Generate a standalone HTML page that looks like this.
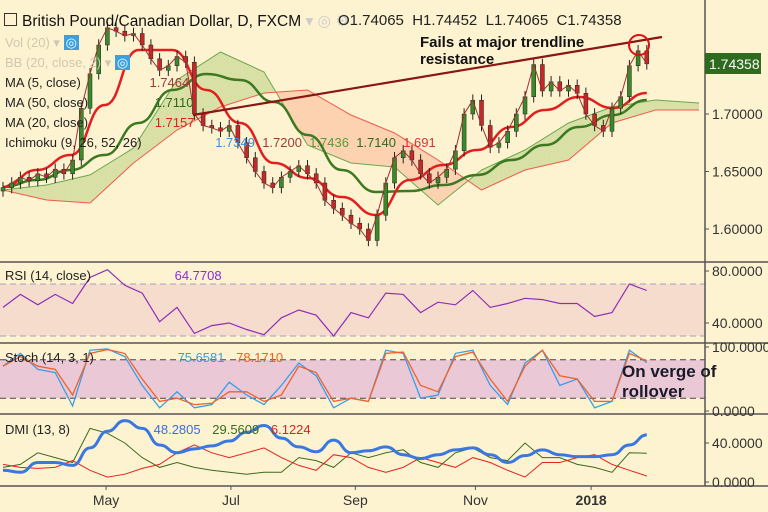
<!DOCTYPE html>
<html><head><meta charset="utf-8"><style>
body{margin:0;background:#fff;}
#wrap{position:relative;width:768px;height:512px;background:#fef3d0;overflow:hidden;font-family:"Liberation Sans",sans-serif;}
svg{position:absolute;left:0;top:0}
.t{position:absolute;white-space:nowrap;font-size:13px;}
</style></head><body>
<div id="wrap">
<svg id="s" width="768" height="512"></svg>
<div class="t" style="left:4px;top:12px;font-size:15.5px;color:#111"><span style="display:inline-block;width:11px;height:11px;border:1px solid #333;margin-right:5px;vertical-align:0"></span>British Pound/Canadian Dollar, D, FXCM <span style="color:#ccc">▾ ◎ ⚙</span></div>
<div class="t" style="left:338px;top:12px;font-size:15px;color:#222">O1.74065 &nbsp;H1.74452 &nbsp;L1.74065 &nbsp;C1.74358</div>
<div class="t" style="left:5px;top:35px;color:#cfc8b0">Vol (20) ▾ <span style="background:#3aa0e0;color:#fff;padding:0 2px">◎</span></div>
<div class="t" style="left:5px;top:55px;color:#cfc8b0">BB (20, close, 2) ▾ <span style="background:#3aa0e0;color:#fff;padding:0 2px">◎</span></div>
<div class="t" style="left:5px;top:75px;color:#222">MA (5, close) <span style="color:#9b3b3b;margin-left:65px">1.7464</span></div>
<div class="t" style="left:5px;top:95px;color:#222">MA (50, close) <span style="color:#2d6a1f;margin-left:63px">1.7110</span></div>
<div class="t" style="left:5px;top:115px;color:#222">MA (20, close) <span style="color:#e02020;margin-left:63px">1.7157</span></div>
<div class="t" style="left:5px;top:135px;color:#222">Ichimoku (9, 26, 52, 26) <span style="color:#3a8ee0;margin-left:70px">1.7349</span> <span style="color:#9b3b3b">&nbsp;1.7200</span> <span style="color:#5a9a3a">&nbsp;1.7436</span> <span style="color:#2d6a1f">&nbsp;1.7140</span> <span style="color:#e03030">&nbsp;1.691</span></div>
<div class="t" style="left:420px;top:34px;font-size:15px;font-weight:bold;color:#111;line-height:17px">Fails at major trendline<br>resistance</div>
<div class="t" style="left:622px;top:362px;font-size:17px;font-weight:bold;color:#1a1a2a;line-height:20px">On verge of<br>rollover</div>
<div class="t" style="left:5px;top:268px;color:#222">RSI (14, close) <span style="color:#8a2be2;margin-left:80px">64.7708</span></div>
<div class="t" style="left:5px;top:350px;color:#222">Stoch (14, 3, 1) <span style="color:#3a9ee0;margin-left:80px">75.6581</span> <span style="color:#f06020;margin-left:8px">78.1710</span></div>
<div class="t" style="left:5px;top:422px;color:#222">DMI (13, 8) <span style="color:#3a6ee0;margin-left:80px">48.2805</span> <span style="color:#3a6a1f;margin-left:8px">29.5609</span> <span style="color:#e02020;margin-left:8px">6.1224</span></div>
</div>
<script>
const closes=[1.636,1.640,1.645,1.642,1.648,1.645,1.652,1.648,1.660,1.705,1.735,1.760,1.775,1.772,1.768,1.770,1.760,1.748,1.738,1.742,1.750,1.745,1.700,1.690,1.688,1.685,1.690,1.675,1.662,1.650,1.640,1.636,1.645,1.650,1.655,1.648,1.640,1.625,1.618,1.612,1.605,1.600,1.590,1.612,1.640,1.662,1.668,1.660,1.648,1.640,1.645,1.652,1.668,1.700,1.712,1.690,1.671,1.675,1.685,1.700,1.715,1.743,1.720,1.728,1.720,1.725,1.718,1.700,1.690,1.685,1.705,1.715,1.742,1.755,1.7436];
const ma20=[1.6365,1.6513,1.6643,1.7078,1.7557,1.7557,1.7209,1.6922,1.6574,1.6443,1.6278,1.6122,1.6426,1.6557,1.6687,1.6887,1.7035,1.7148,1.7052,1.7183];
const ma50=[1.6365,1.6426,1.6513,1.6643,1.6922,1.7209,1.7348,1.7296,1.7104,1.6817,1.6513,1.6322,1.6330,1.6383,1.6470,1.6600,1.6730,1.6887,1.6991,1.7122];
const spanA=[1.6339,1.6383,1.6470,1.6704,1.7296,1.7539,1.7365,1.6730,1.6574,1.6539,1.6209,1.6513,1.6687,1.6922,1.7061,1.7122,1.7096];
const spanB=[1.6339,1.6252,1.6226,1.6574,1.6861,1.7061,1.7183,1.7209,1.6991,1.6835,1.6600,1.6339,1.6513,1.6600,1.6922,1.7035,1.7035];
const rsi=[52,62,54,62,55,75,81,69,63,41,52,32,38,40,35,31,44,50,46,30,48,44,63,62,48,56,54,65,52,55,59,58,55,55,45,48,70,65];
const stochK=[70,90,65,60,8,95,97,85,40,5,30,5,10,45,25,10,40,75,55,5,20,15,95,90,20,25,90,95,40,10,75,95,40,50,5,15,95,75.66];
const stochD=[70,85,70,65,25,90,96,90,50,15,20,10,12,30,30,15,25,70,60,15,20,15,90,92,40,30,85,92,50,15,70,95,55,50,15,15,90,78.17];
const adx=[12,10,20,20,17,35,52,63,55,38,30,34,37,42,51,58,45,36,31,43,30,32,36,28,24,28,33,35,28,20,27,33,28,26,26,28,38,48.28];
const diPlus=[15,18,30,25,20,55,50,40,25,15,20,15,12,10,8,10,10,25,22,15,30,25,30,33,20,15,30,35,25,22,40,25,25,18,15,10,30,29.56];
const diMinus=[18,15,14,15,22,12,5,8,14,18,30,38,30,25,30,35,25,17,12,28,25,15,10,15,25,20,15,25,20,12,5,20,20,25,28,18,12,6.12];
const priceTicks=[1.60,1.65,1.70,1.75];
const months=["May","Jul","Sep","Nov","2018"];
const monthBar=[11.85,26.2,40.5,54.3,67.6];

const S=document.getElementById('s');const NS='http://www.w3.org/2000/svg';
function mk(tag,at,name){const e=document.createElementNS(NS,tag);for(const k in at)e.setAttribute(k,at[k]);


S.appendChild(e);return e;}
const xBar=i=>3+i*8.7;
const yP=p=>114-(p-1.70)*1150;
const yR=v=>271-(v-80)*1.3;
const yS=v=>411-v*0.64;
const yD=v=>482-v*0.975;
const xInd=j=>xBar(j*(closes.length-1)/(rsi.length-1));
function path(arr,xf,yf){return arr.map((v,i)=>(i?'L':'M')+xf(i).toFixed(1)+' '+yf(v).toFixed(1)).join(' ');}
function smooth(arr,xf,yf){let d='M'+xf(0)+' '+yf(arr[0]);for(let i=1;i<arr.length;i++){const x0=xf(i-1),y0=yf(arr[i-1]),x1=xf(i),y1=yf(arr[i]);const xm=(x0+x1)/2;d+=` C${xm} ${y0} ${xm} ${y1} ${x1} ${y1}`;}return d;}
mk('rect',{x:0,y:yR(70),width:705,height:yR(30)-yR(70),fill:'#f6dccd'},'rsi-band');
mk('line',{x1:0,x2:705,y1:yR(70),y2:yR(70),stroke:'#a0a0c0','stroke-dasharray':'6 4'},'rsi-upper-line');
mk('line',{x1:0,x2:705,y1:yR(30),y2:yR(30),stroke:'#a0a0c0','stroke-dasharray':'6 4'},'rsi-lower-line');
mk('rect',{x:0,y:yS(80),width:705,height:yS(20)-yS(80),fill:'#eac8d6'},'stoch-band');
mk('line',{x1:0,x2:705,y1:yS(80),y2:yS(80),stroke:'#444','stroke-dasharray':'6 4'},'stoch-upper-line');
mk('line',{x1:0,x2:705,y1:yS(20),y2:yS(20),stroke:'#444','stroke-dasharray':'6 4'},'stoch-lower-line');
const segBar=5;
for(let k=0;k<spanA.length-1;k++){const N=10;for(let s=0;s<N;s++){const t0=s/N,t1=(s+1)/N;
const a0=spanA[k]+(spanA[k+1]-spanA[k])*t0,a1=spanA[k]+(spanA[k+1]-spanA[k])*t1,b0=spanB[k]+(spanB[k+1]-spanB[k])*t0,b1=spanB[k]+(spanB[k+1]-spanB[k])*t1;
const x0=xBar((k+t0)*segBar),x1=xBar((k+t1)*segBar);const g=(a0+a1)>(b0+b1);
mk('polygon',{points:`${x0},${yP(a0)} ${x1},${yP(a1)} ${x1},${yP(b1)} ${x0},${yP(b0)}`,fill:g?'rgba(150,190,90,0.35)':'rgba(250,170,140,0.45)',stroke:'none'},'cloud-segment');}}
mk('path',{d:path(spanA,i=>xBar(i*segBar),yP),fill:'none',stroke:'#6aa84f','stroke-width':1},'span-a');
mk('path',{d:path(spanB,i=>xBar(i*segBar),yP),fill:'none',stroke:'#f05a4a','stroke-width':1},'span-b');
const xMA=i=>xBar(i*(closes.length-1)/(ma20.length-1));
mk('path',{d:smooth(ma50,xMA,yP),fill:'none',stroke:'#3c7a22','stroke-width':2.5},'ma50-line');
mk('path',{d:smooth(ma20,xMA,yP),fill:'none',stroke:'#e41e1e','stroke-width':2.5},'ma20-line');
closes.forEach((c,i)=>{const o=i?closes[i-1]:c-0.003;const x=xBar(i);const hi=Math.max(o,c)+0.005,lo=Math.min(o,c)-0.005;
mk('line',{x1:x,x2:x,y1:yP(hi),y2:yP(lo),stroke:'#222','stroke-width':1},'candle-wick');
const up=c>=o;mk('rect',{x:x-2,y:yP(Math.max(o,c)),width:4,height:Math.max(1,Math.abs(yP(o)-yP(c))),fill:up?'#3a8a2a':'#c62828',stroke:'#222','stroke-width':0.5},'candle-body');});
mk('path',{d:path(closes,xBar,yP),fill:'none',stroke:'#a03030','stroke-width':1},'ma5-line');
mk('line',{x1:193,y1:115,x2:662,y2:37,stroke:'#8b1414','stroke-width':2.2},'resistance-trendline');
mk('circle',{cx:639,cy:45,r:10,fill:'none',stroke:'#e01010','stroke-width':2},'rejection-circle');
mk('path',{d:path(rsi,xInd,yR),fill:'none',stroke:'#8e2fb8','stroke-width':1.2},'rsi-line');
mk('path',{d:path(stochK,xInd,yS),fill:'none',stroke:'#3a9ee8','stroke-width':1.3},'stoch-k-line');
mk('path',{d:path(stochD,xInd,yS),fill:'none',stroke:'#f0622a','stroke-width':1.3},'stoch-d-line');
mk('path',{d:path(diPlus,xInd,yD),fill:'none',stroke:'#3a6a1f','stroke-width':1},'di-plus-line');
mk('path',{d:path(diMinus,xInd,yD),fill:'none',stroke:'#e82020','stroke-width':1},'di-minus-line');
mk('path',{d:smooth(adx,xInd,yD),fill:'none',stroke:'#3a78e0','stroke-width':3},'adx-line');
[262,343,414,486].forEach(y=>mk('line',{x1:0,x2:768,y1:y,y2:y,stroke:'#555','stroke-width':1.5},'panel-separator'));
mk('line',{x1:705,x2:705,y1:0,y2:486,stroke:'#555','stroke-width':1.5},'price-axis-line');
function lab(x,y,txt,name,extra){const e=mk('text',Object.assign({x:x,y:y,'font-size':14,'font-family':'Liberation Sans, sans-serif',fill:'#333'},extra||{}),name);e.textContent=txt;return e;}
priceTicks.filter(p=>p<1.75).forEach(p=>{mk('line',{x1:705,x2:709,y1:yP(p),y2:yP(p),stroke:'#555'},'price-tick');lab(712,yP(p)+5,p.toFixed(5),'price-tick-label');});
[[80,yR],[40,yR],[100,yS],[0,yS],[40,yD],[0,yD]].forEach(([v,f])=>{mk('line',{x1:705,x2:709,y1:f(v),y2:f(v),stroke:'#555'},'indicator-tick');lab(712,f(v)+5,v.toFixed(4),'indicator-tick-label');});
mk('rect',{x:705,y:53,width:56,height:21,fill:'#2e6b1e'},'last-price-box');
lab(709,69,'1.74358','last-price-label',{fill:'#fff','font-size':14});
months.forEach((m,i)=>{const x=xBar(monthBar[i]);mk('line',{x1:x,x2:x,y1:486,y2:490,stroke:'#555'},'x-tick');lab(x,505,m,'x-tick-label',{'text-anchor':'middle','font-weight':m==='2018'?'bold':'normal'});});
</script>
</body></html>
